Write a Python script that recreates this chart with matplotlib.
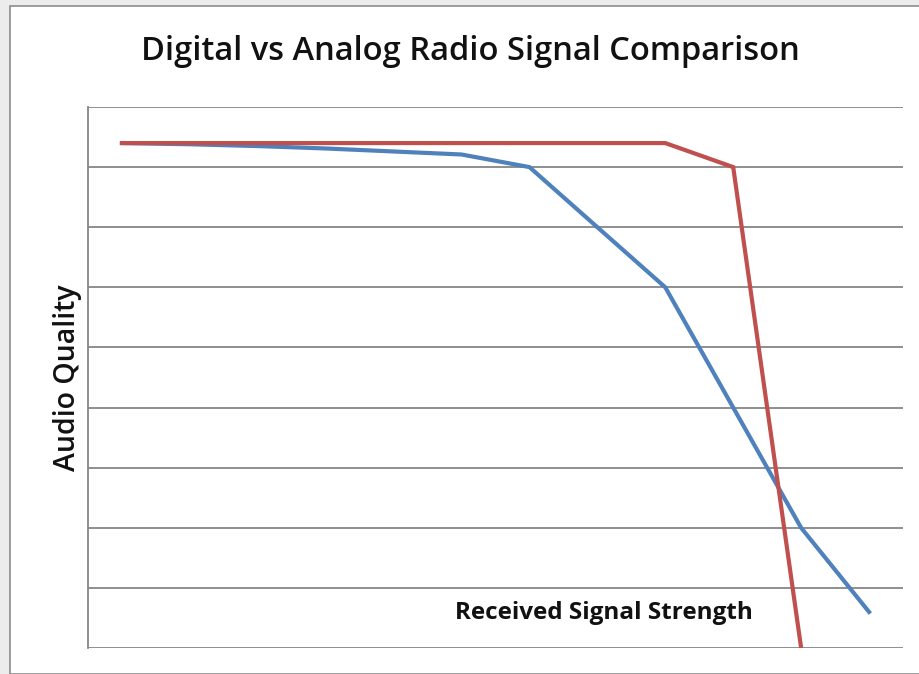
import matplotlib.pyplot as plt
from matplotlib.patches import Rectangle
import numpy as np

# signal strength steps (no labels shown on the chart)
steps = list(range(12))
# audio quality (0..90 scale, gridline every 10)
analog = [84, 83.8, 83.5, 83.1, 82.6, 82.1, 80, 70, 60, 40, 20, 6]
digital = [84, 84, 84, 84, 84, 84, 84, 84, 84, 80, 0]

W, H = 919, 674
fig = plt.figure(figsize=(W / 100, H / 100), dpi=100)
fig.patch.set_facecolor("#ececec")

# white chart area with grey frame
fig.patches.append(Rectangle((10 / W, 0), 1.0, (H - 6) / H, transform=fig.transFigure,
                             facecolor="white", edgecolor="#8c8c8c", linewidth=1.2, zorder=-5))

ax = fig.add_axes([88 / W, (H - 648) / H, (903 - 88) / W, (648 - 107) / H])
ax.set_zorder(2)
ax.set_facecolor("none")

ax.plot(steps, analog, color="#4F81BD", linewidth=3, solid_joinstyle="miter", zorder=3)
ax.plot(steps[:len(digital)], digital, color="#C0504D", linewidth=3, solid_joinstyle="miter", zorder=3)

ax.set_xlim(-0.5, 11.5)
ax.set_ylim(0, 90)
ax.set_yticks(np.arange(0, 91, 10))
ax.set_xticks([])
ax.tick_params(left=False, labelleft=False)
ax.grid(True, axis="y", color="#868686", linewidth=1.3)
ax.set_axisbelow(True)
for s in ["top", "right", "bottom"]:
    ax.spines[s].set_visible(False)
ax.spines["left"].set_color("#868686")
ax.spines["left"].set_linewidth(1.3)

fig.text(470 / W, 1 - 51 / H, "Digital vs Analog Radio Signal Comparison",
         ha="center", va="center", fontsize=23.5, fontfamily="Open Sans", fontweight="semibold", color="#111111")
fig.text(67 / W, 1 - 378 / H, "Audio Quality", rotation=90, ha="center", va="center",
         fontsize=20.5, fontfamily="Open Sans", fontweight="semibold", color="#111111")
fig.text(604 / W, 1 - 613 / H, "Received Signal Strength", ha="center", va="center",
         fontsize=17.5, fontfamily="Open Sans", fontweight="bold", color="#111111", zorder=5)

fig.savefig("out.png", dpi=100, facecolor=fig.get_facecolor())
